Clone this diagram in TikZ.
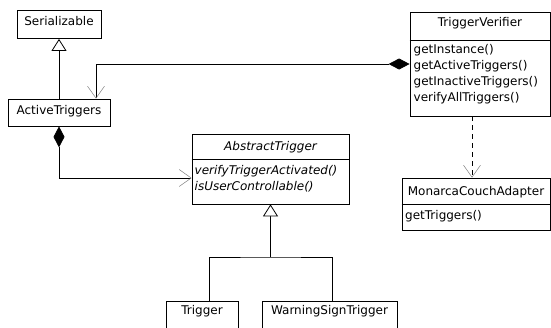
\documentclass[tikz,border=0pt]{standalone}
\usepackage{fontspec}
\setmainfont{DejaVu Sans}
\usetikzlibrary{arrows.meta,positioning}

\tikzset{
  umlbox/.style={draw,line width=0.8pt,inner sep=0pt,anchor=base},
  umlops/.style={inner sep=0pt,anchor=north west,align=left},
  inherit/.style={line width=0.8pt,-{Triangle[open,length=12pt,width=15pt,fill=white]}},
  compose/.style={line width=0.8pt,{Diamond[length=21pt,width=11pt]}-{Straight Barb[length=12pt,width=17pt,color=gray,line width=0.5pt]}},
  depend/.style={line width=0.8pt,dash pattern=on 5pt off 4pt,-{Straight Barb[length=12pt,width=17pt,color=gray,line width=0.5pt]}}
}

\begin{document}
\begin{tikzpicture}[x=1pt,y=-1pt,font=\fontsize{12}{16}\selectfont]
  \useasboundingbox (0,0) rectangle (551,327);
  % classes
  \node[umlbox,minimum width=84pt,text height=15.5pt,text depth=13pt] (serializable) at (59,25.5) {Serializable};
  \node[umlbox,minimum width=102pt,text height=15pt,text depth=12pt] (active) at (59,114) {ActiveTriggers};
  \node[umlbox,minimum width=157pt,text height=16pt,text depth=54pt] (abstract) at (270.5,150) {\itshape AbstractTrigger};
  \node[umlbox,minimum width=140pt,text height=14pt,text depth=90pt] (verifier) at (480,26) {TriggerVerifier};
  \node[umlbox,minimum width=148pt,text height=17pt,text depth=35pt] (adapter) at (476,195) {MonarcaCouchAdapter};
  \node[umlbox,minimum width=72pt,text height=13pt,text depth=18pt] (trigger) at (202,314) {Trigger};
  \node[umlbox,minimum width=135pt,text height=13pt,text depth=18pt] (warning) at (329.5,314) {WarningSignTrigger};

  % compartments
  \draw[line width=0.8pt] (abstract.west |- 0,159) -- (abstract.east |- 0,159);
  \draw[line width=0.8pt] (verifier.west |- 0,40) -- (verifier.east |- 0,40);
  \draw[line width=0.8pt] (adapter.west |- 0,204) -- (adapter.east |- 0,204);
  \node[umlops,font=\fontsize{12}{16}\selectfont\itshape] (abstractOps) at (194.5,164.9) {verifyTriggerActivated()\\isUserControllable()};
  \node[umlops] (verifierOps) at (413.5,43.9) {getInstance()\\getActiveTriggers()\\getInactiveTriggers()\\verifyAllTriggers()};
  \node[umlops] (adapterOps) at (405,209.9) {getTriggers()};

  % relations
  \coordinate (fork) at (270.5,257);
  \draw[inherit] (active.north) -- (serializable.south);
  \draw[inherit] (fork) -- (abstract.south);
  \draw[line width=0.8pt] ([xshift=7pt]trigger.north) |- (fork) -| ([xshift=2.5pt]warning.north);
  \draw[compose] (verifier.west) -| ([xshift=37pt]active.north);
  \draw[compose] (active.south) |- ([yshift=-9pt]abstract.west);
  \draw[depend] ([xshift=-8pt]verifier.south) -- ([xshift=-8pt]verifier.south |- adapter.north);
\end{tikzpicture}
\end{document}
